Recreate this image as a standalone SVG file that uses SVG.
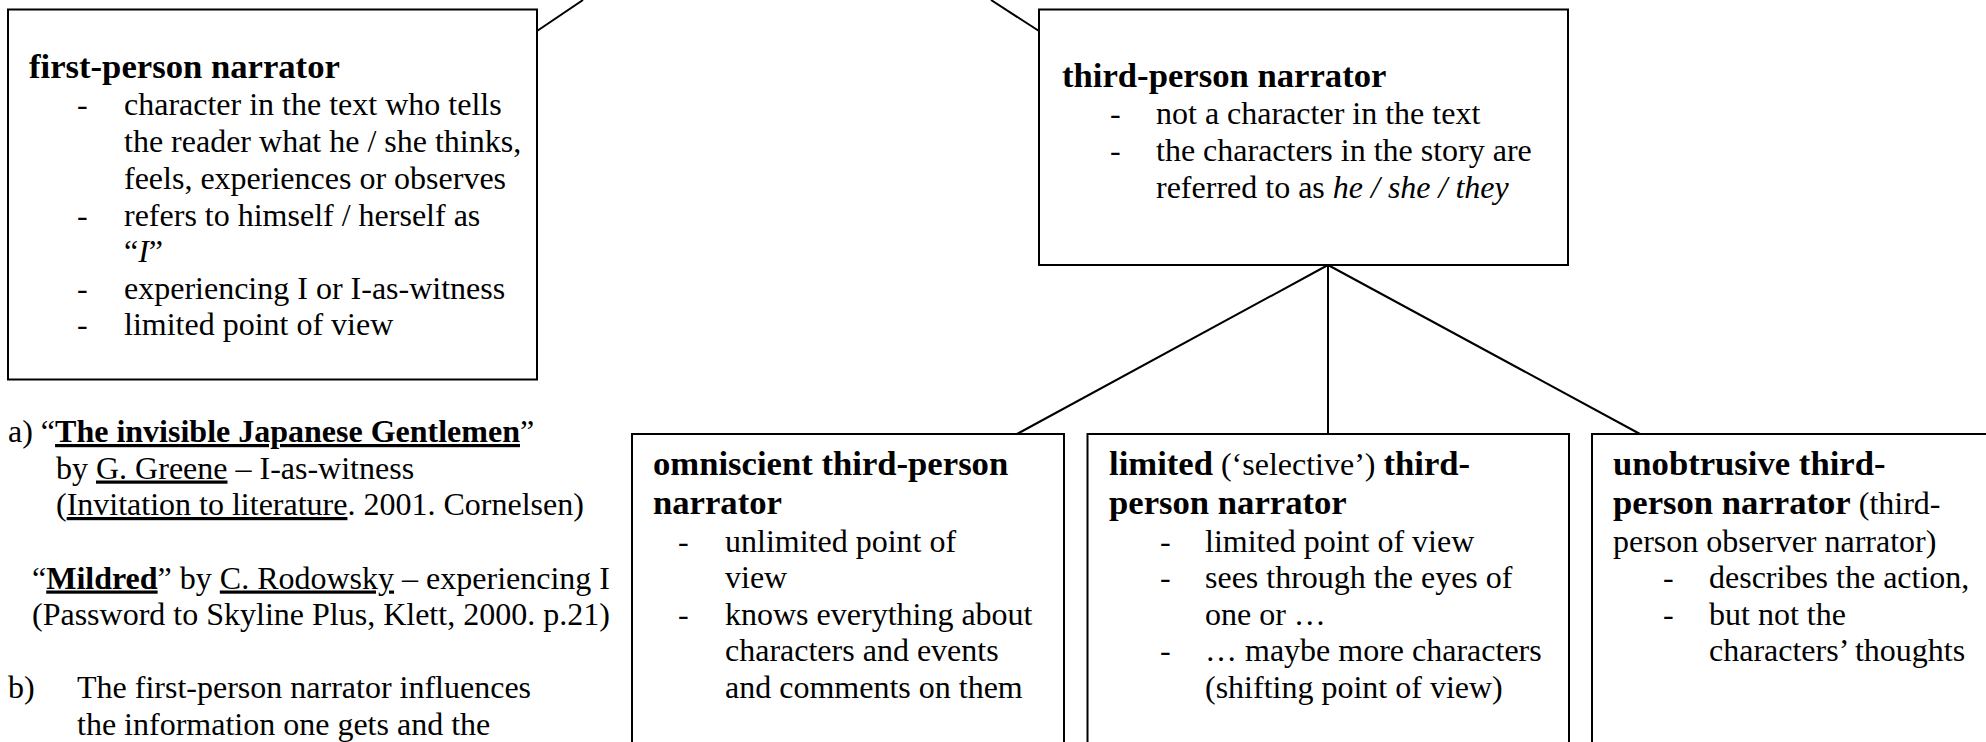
<svg xmlns="http://www.w3.org/2000/svg" width="1986" height="742" viewBox="0 0 1986 742">
<style>
text { font-family: "Liberation Serif", "Times New Roman", serif; font-size: 32px; fill: #000; }
.t { font-weight: bold; font-size: 34.67px; }
.b { font-weight: bold; }
.i { font-style: italic; }
.u { text-decoration: underline; }
.box { fill: #fff; stroke: #000; stroke-width: 2; }
#connectors line { stroke: #000; stroke-width: 2; fill: none; }
</style>
<rect width="1986" height="742" fill="#fff"/>
<g id="connectors">
<line x1="537" y1="31" x2="583" y2="0"/>
<line x1="1039" y1="31" x2="991" y2="0"/>
<line x1="1328" y1="265" x2="1017" y2="434"/>
<line x1="1328" y1="265" x2="1328" y2="434"/>
<line x1="1328" y1="265" x2="1640" y2="434"/>
</g>
<g id="first-person">
<rect class="box" x="8" y="9.5" width="529" height="370"/>
<text class="t" x="29" y="78">first-person narrator</text>
<text x="77" y="115">-</text><text x="124" y="115">character in the text who tells</text>
<text x="124" y="152">the reader what he / she thinks,</text>
<text x="124" y="188.5">feels, experiences or observes</text>
<text x="77" y="225.5">-</text><text x="124" y="225.5">refers to himself / herself as</text>
<text x="124" y="262">“<tspan class="i">I</tspan>”</text>
<text x="77" y="298.5">-</text><text x="124" y="298.5">experiencing I or I-as-witness</text>
<text x="77" y="335">-</text><text x="124" y="335">limited point of view</text>
</g>
<g id="third-person">
<rect class="box" x="1039" y="9.5" width="529" height="255.5"/>
<text class="t" x="1062" y="87">third-person narrator</text>
<text x="1110" y="124">-</text><text x="1156" y="124">not a character in the text</text>
<text x="1110" y="161">-</text><text x="1156" y="161">the characters in the story are</text>
<text x="1156" y="197.5">referred to as <tspan class="i">he / she / they</tspan></text>
</g>
<g id="omniscient">
<rect class="box" x="632" y="434" width="432" height="340"/>
<text class="t" x="653" y="474.5">omniscient third-person</text>
<text class="t" x="653" y="514">narrator</text>
<text x="678" y="551.5">-</text><text x="725" y="551.5">unlimited point of</text>
<text x="725" y="588">view</text>
<text x="678" y="624.5">-</text><text x="725" y="624.5">knows everything about</text>
<text x="725" y="661">characters and events</text>
<text x="725" y="697.5">and comments on them</text>
</g>
<g id="limited">
<rect class="box" x="1087.5" y="434" width="481.5" height="340"/>
<text x="1109" y="474.5"><tspan class="t">limited</tspan> (‘selective’) <tspan class="t">third-</tspan></text>
<text class="t" x="1109" y="514">person narrator</text>
<text x="1160" y="551.5">-</text><text x="1205" y="551.5">limited point of view</text>
<text x="1160" y="588">-</text><text x="1205" y="588">sees through the eyes of</text>
<text x="1205" y="624.5">one or …</text>
<text x="1160" y="661">-</text><text x="1205" y="661">… maybe more characters</text>
<text x="1205" y="697.5">(shifting point of view)</text>
</g>
<g id="unobtrusive">
<rect class="box" x="1592" y="434" width="420" height="340"/>
<text class="t" x="1613" y="474.5">unobtrusive third-</text>
<text x="1613" y="514"><tspan class="t">person narrator</tspan> (third-</text>
<text x="1613" y="551.5">person observer narrator)</text>
<text x="1663" y="588">-</text><text x="1709" y="588">describes the action,</text>
<text x="1663" y="624.5">-</text><text x="1709" y="624.5">but not the</text>
<text x="1709" y="661">characters’ thoughts</text>
</g>
<g id="examples">
<text x="8" y="442">a) “<tspan class="b u">The invisible Japanese Gentlemen</tspan>”</text>
<text x="56" y="478.5">by <tspan class="u">G. Greene</tspan> – I-as-witness</text>
<text x="56" y="515">(<tspan class="u">Invitation to literature</tspan>. 2001. Cornelsen)</text>
<text x="32" y="588.5">“<tspan class="b u">Mildred</tspan>” by <tspan class="u">C. Rodowsky</tspan> – experiencing I</text>
<text x="32" y="625">(Password to Skyline Plus, Klett, 2000. p.21)</text>
<text x="8" y="698">b)</text><text x="77" y="698">The first-person narrator influences</text>
<text x="77" y="734.5">the information one gets and the</text>
</g>
</svg>
